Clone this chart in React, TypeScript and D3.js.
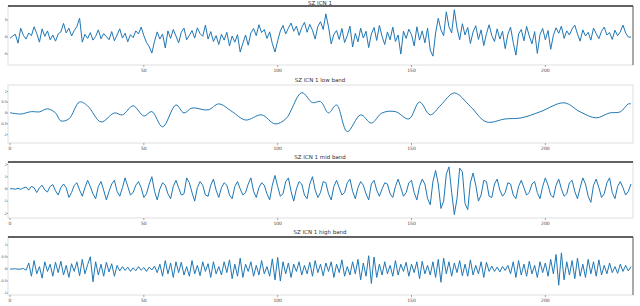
import * as d3 from 'd3';

// raw signal, one value per sample
const rawValues = [
  -0.4, 0.3, 0.8, -1.8, 2.6, 0.5, -0.6, 1.2, 0.4, 3.0,
  1.0, -1.5, 2.4, 0.2, 1.8, -0.8, 0.6, -1.2, 0.9, 1.5,
  4.0, 1.2, 2.6, 0.3, 1.9, 3.1, 5.5, -1.5, 0.8, -0.4,
  1.3, -0.9, 0.2, 2.1, -0.5, 1.0, 0.1, -0.8, 1.6, -1.1,
  0.6, 2.4, -0.3, 1.1, -1.4, 0.7, -0.2, 1.8, 0.9, 2.9,
  0.4, -1.6, -2.8, -4.7, -1.2, 1.5, -0.6, 0.9, -3.2, 1.8,
  -0.4, 2.2, 0.3, -1.7, 1.4, 2.6, -0.8, 0.5, 1.9, -0.3,
  2.7, 1.0, 0.2, 3.5, -0.6, 1.6, -1.3, 0.4, -2.2, 0.8,
  -0.9, 1.4, -2.6, 0.3, -1.5, 0.7, -4.4, -1.8, 0.6, -2.4,
  1.2, 2.5, 0.4, 3.6, 1.3, 2.2, -0.4, 1.5, -1.9, -4.4,
  -1.1, 1.8, 3.4, 0.9, 2.6, 4.1, 1.7, 3.2, 0.5, 2.8,
  4.3, 1.4, 3.7, 2.0, -0.6, 3.1, 4.5, 2.2, 6.8, 3.0,
  -2.0, 0.8, 1.9, -0.7, 2.5, -1.6, 0.4, 3.2, -2.9, 1.1,
  -1.4, 2.6, -0.3, 1.7, -3.1, 0.9, 2.8, -1.0, 3.4, 0.2,
  -2.2, 1.5, -0.8, 2.9, -1.3, 0.6, -5.0, 1.7, -0.4, 2.3,
  0.7, -2.6, 3.0, -0.9, 1.8, -1.7, 2.6, -3.8, -5.6, 1.2,
  5.5, 2.1, 0.4, 7.4, 3.0, 1.2, 8.0, 2.6, -0.8, 3.9,
  0.6, 2.8, -1.9, 1.5, 3.3, -0.7, 2.1, -2.5, 1.0, 3.6,
  0.4, -1.3, 2.4, -0.6, 1.7, -3.4, 0.8, 2.9, -1.6, -5.3,
  0.9, 2.2, -1.1, 3.1, 0.3, -2.0, 1.6, -4.8, 0.7, 2.5,
  -0.8, 1.9, -3.6, 0.5, 2.7, 1.1, 3.2, -0.4, 1.8, 0.6,
  2.4, 3.5, 0.9, -1.2, 2.1, 0.3, 1.4, -0.9, 2.6, 1.0,
  -0.5, 1.7, 2.9, 0.6, 1.3, -0.7, 2.0, 0.4, 1.5, 3.5,
  1.2, 0, 0,
];

// low band, sampled at the turning points
const lowIdx = [
  0, 4, 8, 11, 14, 17, 19, 22, 26, 29, 34, 39, 42, 46, 50, 53, 57, 62, 65, 68,
  74, 78, 83, 88, 94, 99, 103, 109, 113, 116, 119, 122, 126, 131, 135, 139, 144, 149, 153, 157,
  161, 166, 172, 178, 185, 191, 198, 207, 213, 219, 224, 228, 231, 232,
];
const lowValues = [
  0.01, -0.05, 0.06, 0.05, 0.19, 0, -0.37, -0.28, 0.51, 0.33, -0.42, 0, -0.09, 0.33, -0.14, 0.06, -0.65, 0.37, 0, 0.23,
  0.14, 0.42, 0.06, -0.33, -0.09, -0.51, -0.28, 0.94, 0.48, 0.53, 0, 0.37, -0.87, -0.09, -0.47, 0, 0.06, -0.28, 0.51, -0.09,
  0.37, 0.93, 0.3, -0.42, -0.28, -0.23, 0.05, 0.47, 0.05, -0.23, 0, 0.05, 0.42, 0.42,
];

const midValues = [
  0, 0.02, -0.03, 0.05, -0.04, 0.08, 0.15, -0.1, 0.2, 0.1,
  -0.3, 0.1, 0.3, -0.1, -0.25, 0.2, 0.35, -0.15, -0.5, 0.1,
  0.4, 0.1, -0.7, -0.3, 0.3, 0.5, -0.1, -0.6, 0.1, 0.7,
  0.2, -0.4, -0.8, 0.2, 0.6, -0.1, -0.9, -0.2, 0.4, 0.7,
  -0.2, -0.6, 0.1, 0.9, 0.2, -0.5, -0.3, 0.3, 0.6, 0.1,
  -0.7, -0.4, 0.4, 1.0, -0.2, -0.9, 0.0, 0.5, 0.3, -0.4,
  -0.8, 0.2, 0.7, 0.1, -0.5, -0.4, 0.9, 0.5, -0.3, -1.0,
  0.1, 0.6, 0.3, -0.5, -0.6, 0.3, 0.8, -0.1, -0.7, 0.1,
  0.5, 0.3, -0.5, -0.8, 0.2, 0.6, 0.0, -0.5, -0.3, 0.4,
  0.9, -0.2, -0.7, 0.1, 0.5, 0.3, -0.4, -0.9, 0.3, 1.1,
  0.2, -0.6, -0.4, 0.6, 0.9, -0.2, -1.0, 0.0, 0.6, 0.4,
  -0.5, -0.8, 0.4, 1.0, -0.1, -0.7, -0.3, 0.6, 0.5, -0.4,
  -0.9, 0.2, 0.7, 0.1, -0.5, -0.3, 0.5, 0.8, -0.2, -0.8,
  0.1, 0.6, 0.3, -0.4, -0.9, 0.4, 0.7, -0.1, -0.6, 0.0,
  0.5, 0.4, -0.4, -0.7, 0.2, 0.8, 0.1, -0.6, -0.3, 0.5,
  0.7, -0.3, -0.9, 0.2, 0.8, 0.4, -0.8, -1.3, 0.6, 1.5,
  0.4, -1.6, -1.0, 1.2, 1.8, -0.3, -2.1, -0.8, 1.7, 1.4,
  -1.2, -1.7, 0.5, 1.3, 0.3, -1.0, -0.5, 0.7, 0.6, -0.6,
  -0.7, 0.4, 0.8, -0.1, -0.6, -0.3, 0.5, 0.4, -0.5, -0.8,
  0.2, 0.7, 0.1, -0.5, -0.3, 0.4, 0.6, -0.3, -0.8, 0.2,
  0.9, 0.3, -0.5, -0.7, 0.3, 0.8, 0.0, -0.6, -0.4, 0.5,
  0.7, -0.2, -0.8, 0.1, 0.9, 0.4, -0.6, -1.1, 0.3, 0.8,
  0.1, -0.7, -0.4, 0.5, 0.9, -0.3, -0.8, 0.2, 0.6, 0.1,
  -0.5, -0.2, 0.4,
];

const highValues = [
  0, 0, 0.01, -0.01, 0, 0.02, -0.05, 0.25, -0.3, 0.35,
  -0.2, 0.1, -0.38, 0.3, -0.1, 0.2, -0.3, 0.28, -0.15, 0.32,
  -0.25, 0.15, -0.35, 0.22, -0.1, 0.3, -0.28, 0.4, -0.2, 0.18,
  0.51, -0.53, 0.3, -0.25, 0.2, -0.3, 0.28, -0.12, 0.22, -0.3,
  0.15, -0.08, 0.1, -0.06, 0.08, -0.1, 0.05, -0.07, 0.1, -0.05,
  0.06, -0.1, 0.08, -0.04, 0.12, -0.15, 0.2, -0.3, 0.35, -0.2,
  0.25, -0.35, 0.3, -0.15, 0.28, -0.25, 0.1, -0.3, 0.35, -0.2,
  0.15, -0.28, 0.3, -0.1, 0.22, -0.35, 0.3, -0.2, 0.1, -0.25,
  0.3, -0.15, 0.38, -0.4, 0.2, -0.3, 0.45, -0.35, 0.2, -0.1,
  0.3, -0.3, 0.15, -0.25, 0.35, -0.2, 0.1, -0.3, 0.42, -0.45,
  0.48, -0.5, 0.3, -0.2, 0.25, -0.35, 0.2, -0.1, 0.3, -0.25,
  0.15, -0.2, 0.28, -0.3, 0.35, -0.15, 0.2, -0.28, 0.25, -0.1,
  0.3, -0.35, 0.2, -0.15, 0.38, -0.3, 0.1, -0.25, 0.3, -0.2,
  0.4, -0.45, 0.25, -0.3, 0.55, -0.6, 0.5, -0.35, 0.2, -0.25,
  0.3, -0.2, 0.15, -0.3, 0.35, -0.25, 0.2, -0.1, 0.28, -0.3,
  0.2, -0.15, 0.3, -0.4, 0.32, -0.2, 0.15, -0.25, 0.3, -0.35,
  0.4, -0.55, 0.45, -0.2, 0.3, -0.3, 0.25, -0.15, 0.35, -0.28,
  0.2, -0.3, 0.38, -0.25, 0.15, -0.2, 0.3, -0.35, 0.28, -0.1,
  0.12, -0.1, 0.08, -0.12, 0.1, -0.06, 0.15, -0.2, 0.3, -0.35,
  0.35, -0.25, 0.2, -0.3, 0.32, -0.2, 0.15, -0.35, 0.3, -0.15,
  0.25, -0.3, 0.4, -0.2, 0.6, -0.67, 0.67, -0.45, 0.3, -0.25,
  0.35, -0.4, 0.45, -0.3, 0.2, -0.35, 0.4, -0.2, 0.3, -0.3,
  0.38, -0.25, 0.15, -0.2, 0.25, -0.15, 0.1, -0.18, 0.2, -0.1,
  0.15, -0.08, 0.1,
];

const titles = ['SZ ICN 1', 'SZ ICN 1 low band', 'SZ ICN 1 mid band', 'SZ ICN 1 high band'];
const xTicks = [0, 50, 100, 150, 200];
const rawTicks = [-5, 0, 5];
const lowTicks = [-1, -0.5, 0, 0.5, 1];
const midTicks = [-2, -1, 0, 1, 2];
const highTicks = [-1, -0.5, 0, 0.5, 1];

const W = 640;
const H = 306;
const left = 8;
const right = 633;
const blue = '#1f77b4';

interface PanelProps {
  title: string;
  top: number;
  bottom: number;
  xs: number[];
  ys: number[];
  yDomain: [number, number];
  yTicks: number[];
  smooth?: boolean;
  darkTop?: boolean;
  darkRight?: boolean;
  showZero?: boolean;
  titleY?: number;
}

function Panel({ title, top, bottom, xs, ys, yDomain, yTicks, smooth, darkTop, darkRight, showZero = true, titleY }: PanelProps) {
  const x = d3.scaleLinear().domain([0, 232]).range([10, 631]);
  const y = d3.scaleLinear().domain(yDomain).range([bottom, top]);
  const line = d3.line<number>()
    .x((_, i) => x(xs[i]))
    .y((d) => y(d))
    .curve(smooth ? d3.curveCatmullRom : d3.curveLinear);

  return (
    <g>
      <text x={320} y={titleY ?? top - 3} textAnchor="middle" fontSize={5.5} fill="#333">{title}</text>
      <rect x={left} y={top} width={right - left} height={bottom - top} fill="none" stroke="#d8d8d8" strokeWidth={0.8} />
      {darkTop && <line x1={left} x2={right} y1={top} y2={top} stroke="#333" strokeWidth={1.4} />}
      {darkRight && <line x1={right} x2={right} y1={top} y2={bottom} stroke="#555" strokeWidth={0.9} />}
      {xTicks.filter((t) => showZero || t !== 0).map((t) => (
        <g key={t} transform={`translate(${x(t)},${bottom})`}>
          <line y1={0} y2={2} stroke="#666" strokeWidth={0.6} />
          <text y={7} textAnchor="middle" fontSize={4.5} fill="#444">{t}</text>
        </g>
      ))}
      {yTicks.map((t) => (
        <g key={t} transform={`translate(${left},${y(t)})`}>
          <line x1={-1} x2={0} stroke="#666" strokeWidth={0.6} />
          <text x={-1.2} dy="0.35em" textAnchor="end" fontSize={3.4} fill="#444">{t}</text>
        </g>
      ))}
      <path d={line(ys) ?? ''} fill="none" stroke={blue} strokeWidth={1} strokeLinejoin="round" />
    </g>
  );
}

export default function App() {
  const sampleIdx = d3.range(rawValues.length);
  return (
    <svg width={W} height={H} style={{ position: 'absolute', left: 0, top: 0, background: '#fff', fontFamily: 'DejaVu Sans, sans-serif' }}>
      <rect width={W} height={H} fill="#fff" />
      <Panel title={titles[0]} top={6} bottom={65} xs={sampleIdx} ys={rawValues} yDomain={[-8.2, 9.1]} yTicks={rawTicks} darkTop darkRight showZero={false} titleY={4.5} />
      <Panel title={titles[1]} top={85} bottom={143} xs={lowIdx} ys={lowValues} yDomain={[-1.4, 1.3]} yTicks={lowTicks} smooth />
      <Panel title={titles[2]} top={162} bottom={218} xs={d3.range(midValues.length)} ys={midValues} yDomain={[-2.38, 2.2]} yTicks={midTicks} darkTop />
      <Panel title={titles[3]} top={237} bottom={295} xs={d3.range(highValues.length)} ys={highValues} yDomain={[-1.08, 1.33]} yTicks={highTicks} darkTop darkRight />
    </svg>
  );
}
